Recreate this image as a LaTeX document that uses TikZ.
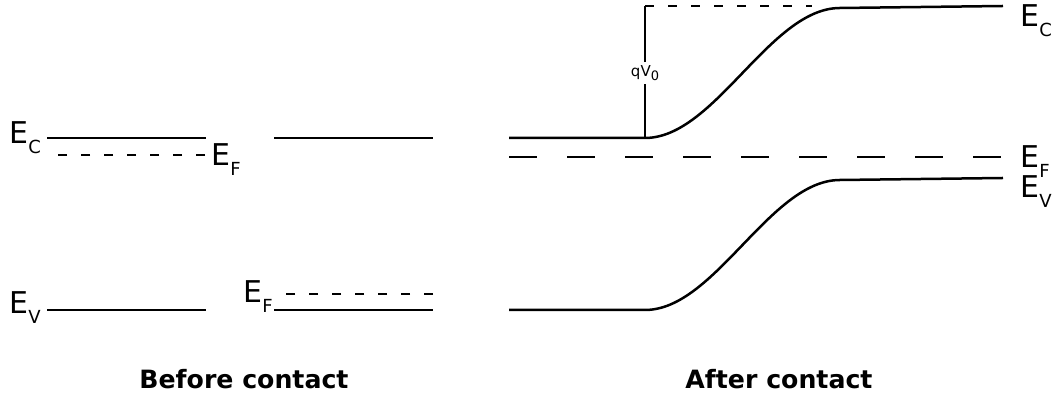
\documentclass[tikz,border=0pt]{standalone}
\usepackage{fontspec}
\setmainfont{DejaVu Sans}
\newcommand{\lev}[1]{E\raisebox{-5pt}{\fontsize{9}{10}\selectfont #1}}

\tikzset{
  thinlvl/.style={line width=0.65pt},
  bandcurve/.style={line width=1.25pt},
  finedash/.style={line width=0.65pt, dash pattern=on 4.5pt off 7pt},
  fermidash/.style={line width=1.25pt, dash pattern=on 14pt off 15pt},
  lbl/.style={anchor=base west, inner sep=0pt},
  headline/.style={anchor=base, inner sep=0pt, font=\fontsize{12.6}{14}\selectfont\bfseries}
}

\begin{document}
\begin{tikzpicture}[x=0.5pt,y=-0.5pt,font=\fontsize{15}{17}\selectfont]
  \useasboundingbox (0,0) rectangle (1057,394);
  % before contact: two separate materials
  \foreach \x/\y in {47/138, 47/310, 274/138, 274/310}
    \draw[thinlvl] (\x,\y) -- (\x+159,\y);
  \draw[finedash] (205,155) -- (47,155);
  \draw[finedash] (433,294) -- (274,294);
  \node[lbl] (ecleft) at (9,144) {\lev{C}};
  \node[lbl] (evleft) at (9,314) {\lev{V}};
  \node[lbl] (efn) at (211,166) {\lev{F}};
  \node[lbl] (efp) at (243,303) {\lev{F}};
  \node[headline] (before) at (244,389) {Before contact};

  % after contact: bands bend, Fermi level flat
  \coordinate (bend) at (645,138);
  \coordinate (top) at (645,6);
  \draw[bandcurve] (509,138) -- (bend) .. controls (715,138) and (770,8) .. (840,8) -- (1003,6);
  \draw[bandcurve] (509,310) -- (645,310) .. controls (715,310) and (770,180) .. (840,180) -- (1003,178);
  \draw[fermidash] (509,157) -- (1003,157);
  \draw[finedash] (top) -- (812,6);
  \node[inner sep=1.5pt, font=\fontsize{7.5}{8}\selectfont] (qv) at (645,73)
    {qV\raisebox{-1.8pt}{\fontsize{6.5}{7}\selectfont 0}};
  \draw[thinlvl] (bend) -- (qv) -- (top);
  \node[lbl] (ecright) at (1020,27) {\lev{C}};
  \node[lbl] (efright) at (1020,168) {\lev{F}};
  \node[lbl] (evright) at (1020,198) {\lev{V}};
  \node[headline] (after) at (779,389) {After contact};
\end{tikzpicture}
\end{document}
